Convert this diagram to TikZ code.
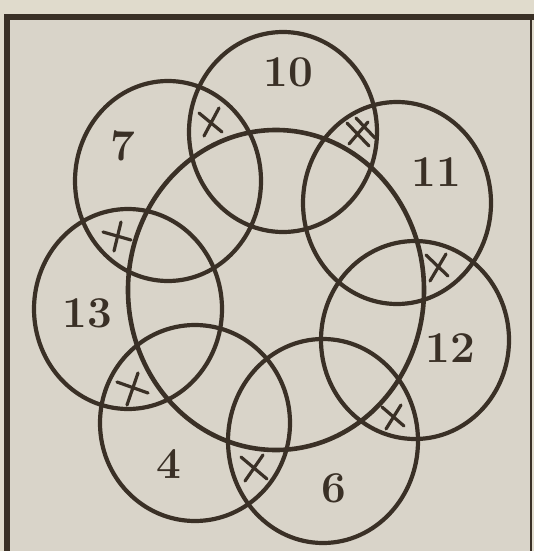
\documentclass[tikz,border=0pt]{standalone}
\usetikzlibrary{shapes.geometric}
\definecolor{ink}{RGB}{58,48,38}
\definecolor{paper}{RGB}{217,212,201}
\definecolor{outer}{RGB}{224,219,204}
\begin{document}
\begin{tikzpicture}[x=1pt,y=-1pt,
  ring/.style={draw=ink,line width=4.2pt},
  bigring/.style={draw=ink,line width=4.6pt},
  lbl/.style={text=ink,font=\fontsize{44}{44}\selectfont\bfseries,inner sep=0pt},
  hatch/.style={draw=ink,line width=3.2pt,line cap=round},
  frame/.style={draw=ink,line width=6.5pt}]
\useasboundingbox (0,0) rectangle (534,551);
\fill[outer] (0,0) rectangle (534,551);
\fill[paper] (7,17) rectangle (531,551);
% frame
\draw[frame] (7,555) -- (7,17) -- (534,17);
\draw[draw=ink,line width=2.5pt] (531,17) -- (531,555);
% big circle
\draw[bigring] (276,290) ellipse [x radius=148pt, y radius=160pt];
% small circles
\draw[ring] (283,132) ellipse [x radius=94pt, y radius=100pt];
\draw[ring] (168,181) ellipse [x radius=93pt, y radius=100pt];
\draw[ring] (397,203) ellipse [x radius=94pt, y radius=101pt];
\draw[ring] (415,340) ellipse [x radius=94pt, y radius=99pt];
\draw[ring] (323,441) ellipse [x radius=95pt, y radius=102pt];
\draw[ring] (195,423) ellipse [x radius=95pt, y radius=98pt];
\draw[ring] (128,309) ellipse [x radius=94pt, y radius=100pt];
% labels
\node[lbl] (n10) at (288,72) {10};
\node[lbl] (n7) at (123,146) {7};
\node[lbl] (n11) at (436,172) {11};
\node[lbl] (n12) at (450,348) {12};
\node[lbl] (n6) at (334,488) {6};
\node[lbl] (n4) at (169,464) {4};
\node[lbl] (n13) at (87,313) {13};
% crosses
\draw[hatch] (199,113) -- (222,132) (219,108) -- (204,136);
\draw[hatch] (347,123) -- (369,146) (368,122) -- (349,144) (356,118) -- (375,138);
\draw[hatch] (426,255) -- (448,276) (446,254) -- (430,281);
\draw[hatch] (382,407) -- (404,426) (401,405) -- (386,429);
\draw[hatch] (241,457) -- (267,479) (263,455) -- (245,481);
\draw[hatch] (117,382) -- (148,393) (138,373) -- (127,405);
\draw[hatch] (103,232) -- (131,240) (121,222) -- (114,251);
\end{tikzpicture}
\end{document}
